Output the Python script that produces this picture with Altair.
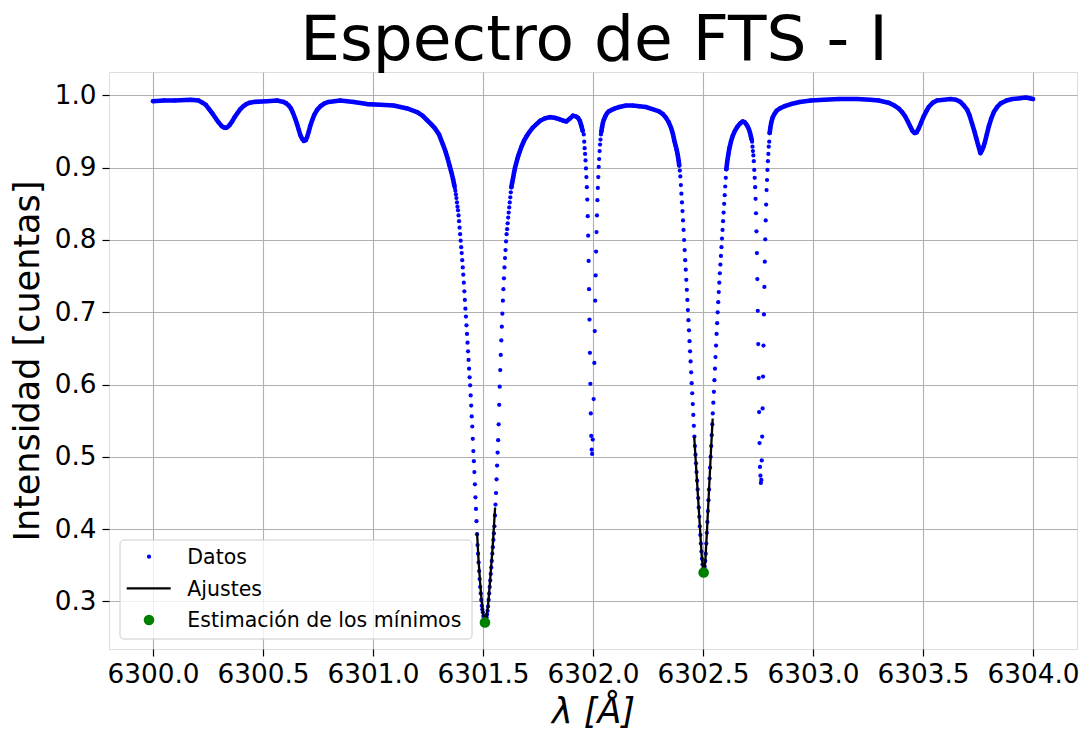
import altair as alt
import pandas as pd

# ---------------------------------------------------------------------------
# FTS intensity spectrum, 6300-6304 Å (normalised intensity)
# Smooth stretches of the spectrum (drawn as a continuous trace of dots)
# ---------------------------------------------------------------------------
trace1_lam = [6300.000, 6300.050, 6300.100, 6300.170, 6300.207, 6300.225, 6300.240, 6300.255,
              6300.270, 6300.288, 6300.300, 6300.311, 6300.320, 6300.329, 6300.338, 6300.348,
              6300.360, 6300.371, 6300.385, 6300.397, 6300.410, 6300.424, 6300.440, 6300.458,
              6300.518, 6300.564, 6300.594, 6300.606, 6300.617, 6300.627, 6300.636, 6300.646,
              6300.655, 6300.663, 6300.670, 6300.678, 6300.686, 6300.694, 6300.700, 6300.708,
              6300.715, 6300.724, 6300.733, 6300.746, 6300.761, 6300.780, 6300.798, 6300.851,
              6300.912, 6300.973, 6301.033, 6301.094, 6301.155, 6301.200, 6301.225, 6301.245,
              6301.265, 6301.283, 6301.300, 6301.318, 6301.330, 6301.340, 6301.348, 6301.356,
              6301.364, 6301.370]
trace1_int = [0.992, 0.993, 0.993, 0.994, 0.993, 0.990, 0.987, 0.981,
              0.975, 0.967, 0.962, 0.958, 0.956, 0.955, 0.956, 0.959,
              0.964, 0.970, 0.976, 0.981, 0.985, 0.988, 0.990, 0.991,
              0.992, 0.993, 0.991, 0.989, 0.986, 0.982, 0.976, 0.968,
              0.960, 0.952, 0.945, 0.940, 0.937, 0.938, 0.942, 0.950,
              0.958, 0.966, 0.973, 0.980, 0.985, 0.989, 0.991, 0.993,
              0.991, 0.988, 0.987, 0.986, 0.982, 0.977, 0.972, 0.966,
              0.960, 0.954, 0.946, 0.932, 0.922, 0.912, 0.903, 0.894,
              0.884, 0.875]

trace2_lam = [6301.629, 6301.633, 6301.637, 6301.641, 6301.645, 6301.650, 6301.656, 6301.662,
              6301.668, 6301.676, 6301.686, 6301.697, 6301.710, 6301.725, 6301.742, 6301.760,
              6301.780, 6301.803, 6301.825, 6301.848, 6301.865, 6301.879, 6301.895, 6301.909,
              6301.922, 6301.932, 6301.940, 6301.947, 6301.953]
trace2_int = [0.873, 0.880, 0.886, 0.893, 0.899, 0.905, 0.912, 0.918,
              0.923, 0.930, 0.937, 0.943, 0.949, 0.955, 0.960, 0.965,
              0.968, 0.970, 0.969, 0.967, 0.965, 0.964, 0.968, 0.972,
              0.971, 0.969, 0.965, 0.958, 0.951]

trace3_lam = [6302.038, 6302.041, 6302.045, 6302.050, 6302.056, 6302.063, 6302.072, 6302.085,
              6302.100, 6302.120, 6302.150, 6302.180, 6302.210, 6302.240, 6302.270, 6302.300,
              6302.318, 6302.332, 6302.344, 6302.355, 6302.363, 6302.370, 6302.376, 6302.381,
              6302.385, 6302.389, 6302.392]
trace3_int = [0.950, 0.956, 0.962, 0.967, 0.971, 0.975, 0.978, 0.980,
              0.982, 0.984, 0.986, 0.986, 0.985, 0.984, 0.981, 0.978,
              0.974, 0.969, 0.963, 0.955, 0.947, 0.937, 0.930, 0.924,
              0.918, 0.910, 0.903]

trace4_lam = [6302.606, 6302.610, 6302.615, 6302.620, 6302.627, 6302.635, 6302.645, 6302.657,
              6302.668, 6302.680, 6302.689, 6302.697, 6302.703, 6302.709, 6302.714, 6302.718,
              6302.721]
trace4_int = [0.898, 0.908, 0.918, 0.927, 0.936, 0.944, 0.951, 0.957,
              0.961, 0.964, 0.963, 0.960, 0.957, 0.953, 0.948, 0.943,
              0.939]

trace5_lam = [6302.803, 6302.806, 6302.810, 6302.816, 6302.824, 6302.835, 6302.850, 6302.870,
              6302.900, 6302.940, 6302.990, 6303.050, 6303.120, 6303.200, 6303.260, 6303.298,
              6303.343, 6303.370, 6303.389, 6303.405, 6303.419, 6303.431, 6303.442, 6303.452,
              6303.462, 6303.471, 6303.480, 6303.491, 6303.503, 6303.515, 6303.526, 6303.545,
              6303.564, 6303.625, 6303.650, 6303.670, 6303.686, 6303.701, 6303.712, 6303.723,
              6303.733, 6303.742, 6303.751, 6303.761, 6303.768, 6303.775, 6303.781, 6303.790,
              6303.799, 6303.810, 6303.822, 6303.837, 6303.853, 6303.880, 6303.906, 6303.940,
              6303.967, 6303.985, 6304.000]
trace5_int = [0.948, 0.955, 0.962, 0.969, 0.974, 0.979, 0.982, 0.985,
              0.988, 0.991, 0.993, 0.994, 0.995, 0.995, 0.994, 0.993,
              0.990, 0.986, 0.982, 0.977, 0.971, 0.964, 0.957, 0.951,
              0.948, 0.949, 0.954, 0.962, 0.971, 0.978, 0.984, 0.990,
              0.993, 0.995, 0.994, 0.991, 0.986, 0.980, 0.972, 0.961,
              0.951, 0.941, 0.931, 0.920, 0.924, 0.929, 0.935, 0.946,
              0.957, 0.968, 0.977, 0.984, 0.989, 0.993, 0.995, 0.996,
              0.997, 0.996, 0.995]

# ---------------------------------------------------------------------------
# Deep line cores, where the individual samples separate into dots
# ---------------------------------------------------------------------------
# Fe I 6301.5 (uniform sampling)
fe6301_start, fe6301_step = 6301.372, 0.0024
fe6301_int = [0.872, 0.868, 0.863, 0.858, 0.852, 0.846, 0.841, 0.834, 0.826, 0.817,
              0.808, 0.799, 0.790, 0.782, 0.772, 0.762, 0.752, 0.741, 0.729, 0.717,
              0.705, 0.694, 0.682, 0.670, 0.658, 0.646, 0.634, 0.622, 0.610, 0.599,
              0.585, 0.571, 0.556, 0.542, 0.525, 0.508, 0.494, 0.479, 0.462, 0.444,
              0.428, 0.411, 0.393, 0.378, 0.366, 0.354, 0.342, 0.331, 0.320, 0.311,
              0.302, 0.294, 0.289, 0.285, 0.280, 0.277, 0.274, 0.271, 0.273, 0.276,
              0.278, 0.282, 0.287, 0.293, 0.302, 0.311, 0.320, 0.329, 0.338, 0.347,
              0.356, 0.366, 0.375, 0.385, 0.394, 0.404, 0.419, 0.434, 0.450, 0.469,
              0.488, 0.506, 0.523, 0.545, 0.572, 0.597, 0.620, 0.641, 0.661, 0.680,
              0.698, 0.716, 0.732, 0.747, 0.762, 0.775, 0.786, 0.798, 0.808, 0.815,
              0.823, 0.831, 0.838, 0.845, 0.852, 0.859, 0.866, 0.873]

# telluric O2 line near 6302.0
o2a_lam = [6301.958, 6301.960, 6301.962, 6301.964, 6301.966, 6301.968, 6301.970, 6301.972,
           6301.974, 6301.976, 6301.978, 6301.980, 6301.982, 6301.984, 6301.986, 6301.988,
           6301.990, 6301.992, 6301.994, 6301.996, 6301.999, 6302.003, 6302.006, 6302.008,
           6302.010, 6302.012, 6302.014, 6302.016, 6302.018, 6302.020, 6302.022, 6302.024,
           6302.026, 6302.028, 6302.030, 6302.032, 6302.034, 6302.036]
o2a_int = [0.946, 0.936, 0.927, 0.919, 0.910, 0.899, 0.887, 0.873,
           0.856, 0.833, 0.806, 0.771, 0.732, 0.690, 0.644, 0.601,
           0.560, 0.529, 0.510, 0.504, 0.524, 0.580, 0.630, 0.674,
           0.716, 0.751, 0.784, 0.811, 0.834, 0.855, 0.872, 0.887,
           0.901, 0.912, 0.923, 0.932, 0.939, 0.946]

# Fe I 6302.5 (uniform sampling)
fe6302_start, fe6302_step = 6302.3945, 0.00246
fe6302_int = [0.896,
              0.888, 0.876, 0.864, 0.852, 0.840, 0.827, 0.814, 0.800, 0.786, 0.772,
              0.759, 0.745, 0.731, 0.717, 0.703, 0.689, 0.675, 0.660, 0.646, 0.632,
              0.617, 0.602, 0.588, 0.573, 0.558, 0.543, 0.528,
              0.515, 0.503, 0.491, 0.479, 0.467, 0.455, 0.443, 0.430, 0.417, 0.404,
              0.392, 0.380, 0.369, 0.359, 0.351, 0.345, 0.342, 0.343, 0.348, 0.356,
              0.366, 0.380, 0.395, 0.410, 0.425, 0.440, 0.455, 0.470, 0.485, 0.500,
              0.515, 0.530, 0.545, 0.560,
              0.575, 0.590, 0.606, 0.622, 0.638, 0.654, 0.670, 0.685, 0.700, 0.714,
              0.728, 0.741, 0.754, 0.766, 0.778, 0.790, 0.802, 0.814, 0.826, 0.838,
              0.850, 0.862, 0.874, 0.886, 0.898]

# telluric O2 line near 6302.76 (uniform sampling)
o2b_start, o2b_step = 6302.723, 0.002
o2b_int = [0.936, 0.929, 0.923, 0.917, 0.909, 0.897, 0.886, 0.873, 0.857, 0.837,
           0.812, 0.782, 0.746, 0.702, 0.656, 0.609, 0.562, 0.519, 0.486, 0.474,
           0.464, 0.468, 0.495, 0.528, 0.567, 0.611, 0.654, 0.697, 0.735, 0.770,
           0.801, 0.827, 0.849, 0.869, 0.883, 0.897, 0.909, 0.919, 0.929, 0.936,
           0.948]

# ---------------------------------------------------------------------------
# Fits around the two Fe I minima and the estimated minima
# ---------------------------------------------------------------------------
fit1_lam = [6301.473, 6301.480, 6301.487, 6301.494, 6301.501, 6301.509, 6301.516,
            6301.523, 6301.530, 6301.537, 6301.544, 6301.550, 6301.555]
fit1_int = [0.395, 0.356, 0.326, 0.300, 0.283, 0.271, 0.279,
            0.295, 0.320, 0.348, 0.376, 0.405, 0.430]
fit2_lam = [6302.460, 6302.470, 6302.480, 6302.488, 6302.495, 6302.503,
            6302.510, 6302.518, 6302.527, 6302.536, 6302.544]
fit2_int = [0.528, 0.480, 0.432, 0.393, 0.360, 0.340,
            0.353, 0.397, 0.452, 0.507, 0.553]

min_lam = [6301.509, 6302.503]
min_int = [0.271, 0.340]

x_ticks = [6300.0, 6300.5, 6301.0, 6301.5, 6302.0, 6302.5, 6303.0, 6303.5, 6304.0]
y_ticks = [0.3, 0.4, 0.5, 0.6, 0.7, 0.8, 0.9, 1.0]
legend_labels = ["Datos", "Ajustes", "Estimación de los mínimos"]
title_text = "Espectro de FTS - I"

# ---------------------------------------------------------------------------
# Tables
# ---------------------------------------------------------------------------
def uniform(start, step, values):
    return [round(start + step * k, 5) for k in range(len(values))]

traces = [(trace1_lam, trace1_int), (trace2_lam, trace2_int), (trace3_lam, trace3_int),
          (trace4_lam, trace4_int), (trace5_lam, trace5_int)]
cores = [(uniform(fe6301_start, fe6301_step, fe6301_int), fe6301_int),
         (o2a_lam, o2a_int),
         (uniform(fe6302_start, fe6302_step, fe6302_int), fe6302_int),
         (uniform(o2b_start, o2b_step, o2b_int), o2b_int)]

trace_df = pd.concat(
    [pd.DataFrame({"lam": l, "val": v, "seg": i}) for i, (l, v) in enumerate(traces)],
    ignore_index=True)
points_df = pd.concat(
    [pd.DataFrame({"lam": l, "val": v}) for l, v in traces + cores], ignore_index=True)
fit_df = pd.concat(
    [pd.DataFrame({"lam": fit1_lam, "val": fit1_int, "fit": 1}),
     pd.DataFrame({"lam": fit2_lam, "val": fit2_int, "fit": 2})], ignore_index=True)
min_df = pd.DataFrame({"lam": min_lam, "val": min_int})

# ---------------------------------------------------------------------------
# Encodings shared by every data layer
# ---------------------------------------------------------------------------
FONT = "DejaVu Sans"
BLUE = "#0000ff"
GREEN = "#008000"
DOT = 18

x_enc = alt.X(
    "lam:Q",
    scale=alt.Scale(domain=[6299.8, 6304.2], nice=False, zero=False),
    axis=alt.Axis(values=x_ticks, format=".1f", labelFont=FONT, labelFontSize=26.3,
                  labelColor="black", labelPadding=5, labelOverlap=False, labelFlush=False,
                  tickSize=7, tickColor="black", tickWidth=1.2, domain=False,
                  grid=True, gridColor="#b0b0b0", gridWidth=1.1,
                  title="λ [Å]", titleFont=FONT, titleFontSize=35, titleFontStyle="italic",
                  titleFontWeight="normal", titleColor="black",
                  titleBaseline="alphabetic", titleY=73),
)
y_enc = alt.Y(
    "val:Q",
    scale=alt.Scale(domain=[0.2342, 1.0324], nice=False, zero=False),
    axis=alt.Axis(values=y_ticks, format=".1f", labelFont=FONT, labelFontSize=26.3,
                  labelColor="black", labelPadding=6, labelOverlap=False, labelFlush=False,
                  tickSize=7, tickColor="black", tickWidth=1.2, domain=False,
                  grid=True, gridColor="#b0b0b0", gridWidth=1.1,
                  title="Intensidad [cuentas]", titleFont=FONT, titleFontSize=35,
                  titleFontWeight="normal", titleColor="black",
                  titleAngle=270, titleAlign="center", titleBaseline="alphabetic",
                  titleX=-71, titleY=288.5),
)

trace_layer = alt.Chart(trace_df).mark_line(
    color=BLUE, strokeWidth=4.6, strokeCap="round", strokeJoin="round"
).encode(x=x_enc, y=y_enc, detail="seg:N")

points_layer = alt.Chart(points_df).mark_circle(
    color=BLUE, size=DOT, opacity=1
).encode(x=x_enc, y=y_enc)

fit_layer = alt.Chart(fit_df).mark_line(
    color="black", strokeWidth=2.3
).encode(x=x_enc, y=y_enc, detail="fit:N")

min_layer = alt.Chart(min_df).mark_circle(
    color=GREEN, size=113, opacity=1
).encode(x=x_enc, y=y_enc)

# ---------------------------------------------------------------------------
# Title and legend box (lower left of the plot)
# ---------------------------------------------------------------------------
one = alt.Data(values=[{"k": 0}])

title_layer = alt.Chart(alt.Data(values=[{"t": title_text}])).mark_text(
    align="center", baseline="alphabetic", font=FONT, fontSize=63, color="black"
).encode(text="t:N", x=alt.value(485), y=alt.value(-12))

legend_box = alt.Chart(one).mark_rect(
    cornerRadius=4, fill="white", fillOpacity=0.8, stroke="#cccccc", strokeWidth=1
).encode(x=alt.value(11), x2=alt.value(363), y=alt.value(468), y2=alt.value(567))

legend_dot = alt.Chart(one).mark_circle(color=BLUE, size=DOT, opacity=1).encode(
    x=alt.value(40), y=alt.value(484.7))
legend_line = alt.Chart(one).mark_rule(color="black", strokeWidth=2.3).encode(
    x=alt.value(17.7), x2=alt.value(61.7), y=alt.value(516.3))
legend_min = alt.Chart(one).mark_circle(color=GREEN, size=113, opacity=1).encode(
    x=alt.value(40), y=alt.value(548))

legend_text_y = [492.3, 523.7, 554.7]
legend_texts = [
    alt.Chart(alt.Data(values=[{"label": lab}])).mark_text(
        align="left", baseline="alphabetic", font=FONT, fontSize=20.5, color="black"
    ).encode(text="label:N", x=alt.value(78.3), y=alt.value(ty))
    for lab, ty in zip(legend_labels, legend_text_y)
]

chart = alt.layer(
    trace_layer, points_layer, fit_layer, min_layer, title_layer,
    legend_box, legend_dot, legend_line, legend_min, *legend_texts
).properties(
    width=968,
    height=577,
    padding={"left": 109, "top": 72, "right": 8, "bottom": 82},
    autosize=alt.AutoSizeParams(type="none"),
).configure_view(
    stroke="black", strokeWidth=1.2
).configure(background="white")

chart.save("out.html", embed_options={"renderer": "svg", "actions": False})
